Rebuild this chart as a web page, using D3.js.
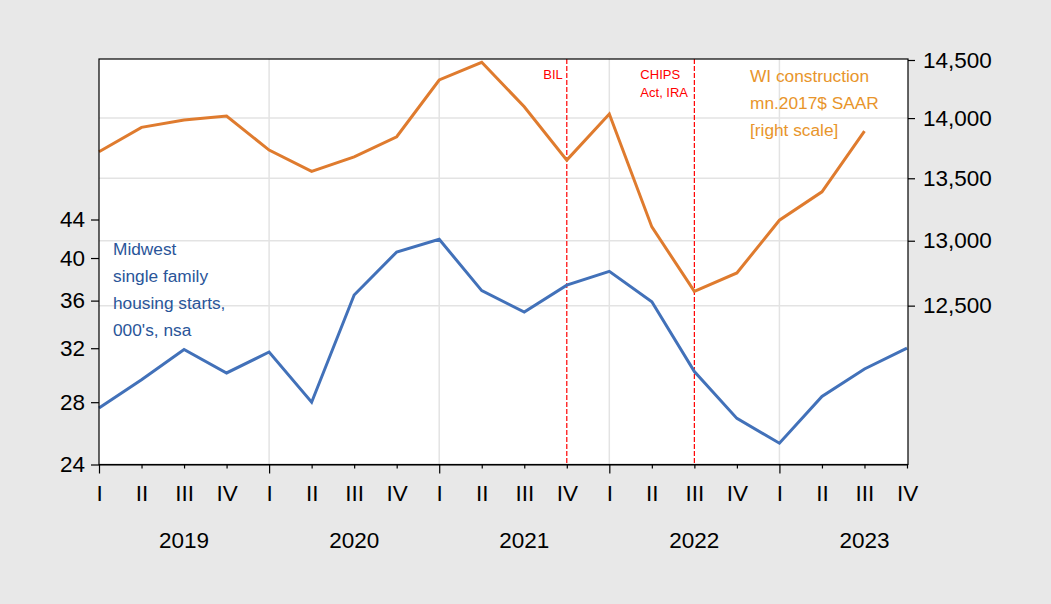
<!DOCTYPE html>
<html>
<head>
<meta charset="utf-8">
<script src="https://cdn.jsdelivr.net/npm/d3@7"></script>
<style>
  html, body { margin: 0; padding: 0; background: #e8e8e8; }
  svg { display: block; }
  text { font-family: "Liberation Sans", Arial, sans-serif; }
</style>
</head>
<body>
<script>
// ---- data ----
const years = ["2019", "2020", "2021", "2022", "2023"];
const quarters = ["I", "II", "III", "IV"];
const periods = years.flatMap(y => quarters.map(q => y + "Q" + q));
const housingStarts = [27.6, 29.6, 31.9, 30.1, 31.7, 28.0, 36.5, 40.6, 41.9, 36.9,
                       35.0, 37.4, 38.7, 35.9, 30.2, 26.9, 25.3, 28.4, 30.4, 32.0];
const wiConstruction = [13718, 13922, 13983, 14017, 13732, 13556, 13676, 13843, 14326, 14480,
                        14096, 13649, 14034, 13109, 12609, 12749, 13162, 13390, 13890, null];
const leftTicks = [24, 28, 32, 36, 40, 44];
const rightTicks = [12500, 13000, 13500, 14000, 14500];
const leftDomain = [24, 65.45];
const rightDomain = [11356, 14500];
const events = [
  { period: "2021QIV", label: ["BIL"], anchor: "end" },
  { period: "2022QIII", label: ["CHIPS", "Act, IRA"], anchor: "start" }
];
const housingLabel = ["Midwest", "single family", "housing starts,", "000's, nsa"];
const wiLabel = ["WI construction", "mn.2017$ SAAR", "[right scale]"];

// ---- layout ----
const W = 1051, H = 604;
const L = 99, R = 907, T = 59, B = 464.5;
const blue = "#4271b9", orange = "#df7b2e";

const svg = d3.select("body").append("svg").attr("width", W).attr("height", H);

const x = d3.scalePoint().domain(periods).range([L, R]);
const yL = d3.scaleLog().domain(leftDomain).range([B, T]);
const yR = d3.scaleLog().domain(rightDomain).range([B, T + 1]);

// plot background
svg.append("rect").attr("x", L).attr("y", T).attr("width", R - L + 1).attr("height", B - T)
  .attr("fill", "#fff");

// gridlines
svg.append("g").selectAll("line").data(rightTicks.filter(d => d < 14500)).join("line")
  .attr("x1", L).attr("x2", R + 1).attr("y1", d => yR(d)).attr("y2", d => yR(d))
  .attr("stroke", "#e3e3e3").attr("stroke-width", 1.5);
svg.append("g").selectAll("line").data(years.slice(1)).join("line")
  .attr("x1", d => x(d + "QI")).attr("x2", d => x(d + "QI"))
  .attr("y1", T).attr("y2", B)
  .attr("stroke", "#e3e3e3").attr("stroke-width", 1.5);

// event lines
const ev = svg.append("g");
events.forEach(e => {
  const ex = x(e.period);
  ev.append("line").attr("x1", ex).attr("x2", ex).attr("y1", T).attr("y2", B)
    .attr("stroke", "#ff0000").attr("stroke-width", 1.2).attr("stroke-dasharray", "5,2");
  e.label.forEach((t, i) => {
    ev.append("text").attr("x", e.anchor === "end" ? ex - 4 : ex - 54)
      .attr("y", 79 + i * 18).attr("text-anchor", e.anchor)
      .attr("fill", "#ff0000").attr("font-size", 13).text(t);
  });
});

// lines
const lineL = d3.line().defined(d => d[1] != null).x(d => x(d[0])).y(d => yL(d[1]));
const lineR = d3.line().defined(d => d[1] != null).x(d => x(d[0])).y(d => yR(d[1]));
svg.append("path").datum(periods.map((p, i) => [p, wiConstruction[i]]))
  .attr("d", lineR).attr("fill", "none").attr("stroke", orange).attr("stroke-width", 3)
  .attr("stroke-linejoin", "miter");
svg.append("path").datum(periods.map((p, i) => [p, housingStarts[i]]))
  .attr("d", lineL).attr("fill", "none").attr("stroke", blue).attr("stroke-width", 3)
  .attr("stroke-linejoin", "miter");

// frame
svg.append("rect").attr("x", L).attr("y", T).attr("width", R - L + 1).attr("height", B - T)
  .attr("fill", "none").attr("stroke", "#000").attr("stroke-width", 1.2);

// axes
const fontSize = 22.5;
const ff = "Liberation Sans, Arial, sans-serif";
const ax = svg.append("g").attr("transform", `translate(0,${B})`)
  .call(d3.axisBottom(x).tickSize(4).tickSizeOuter(0).tickFormat(d => d.split("Q")[1]));
ax.select(".domain").attr("stroke", "#000").attr("stroke-width", 1.2);
ax.selectAll(".tick line").attr("stroke", "#000").attr("stroke-width", 1.2)
  .attr("y2", d => d.endsWith("QI") ? 9 : 4);
ax.selectAll(".tick text").attr("y", 29).attr("dy", "0.35em")
  .attr("font-size", fontSize).attr("font-family", ff).attr("fill", "#000");

svg.append("g").selectAll("text").data(years).join("text")
  .attr("x", d => x(d + "QIII")).attr("y", 540).attr("dy", "0.35em")
  .attr("text-anchor", "middle").attr("font-size", fontSize).attr("fill", "#000").text(d => d);

const axl = svg.append("g").attr("transform", `translate(${L},0)`)
  .call(d3.axisLeft(yL).tickValues(leftTicks).tickSize(8).tickSizeOuter(0).tickPadding(6)
    .tickFormat(d3.format("d")));
axl.select(".domain").remove();
axl.selectAll(".tick line").attr("stroke", "#000").attr("stroke-width", 1.2);
axl.selectAll(".tick text").attr("font-size", fontSize).attr("font-family", ff).attr("fill", "#000");

const axr = svg.append("g").attr("transform", `translate(${R + 1},0)`)
  .call(d3.axisRight(yR).tickValues(rightTicks).tickSize(7).tickSizeOuter(0).tickPadding(8)
    .tickFormat(d3.format(",")));
axr.select(".domain").remove();
axr.selectAll(".tick line").attr("stroke", "#000").attr("stroke-width", 1.2);
axr.selectAll(".tick text").attr("font-size", fontSize).attr("font-family", ff).attr("fill", "#000");

// series labels
svg.append("g").selectAll("text").data(housingLabel).join("text")
  .attr("x", 113).attr("y", (d, i) => 255 + i * 27)
  .attr("font-size", 17.3).attr("fill", "#2a5599").text(d => d);
svg.append("g").selectAll("text").data(wiLabel).join("text")
  .attr("x", 750).attr("y", (d, i) => 82 + i * 27)
  .attr("font-size", 17.3).attr("fill", "#e8952b").text(d => d);
</script>
</body>
</html>
